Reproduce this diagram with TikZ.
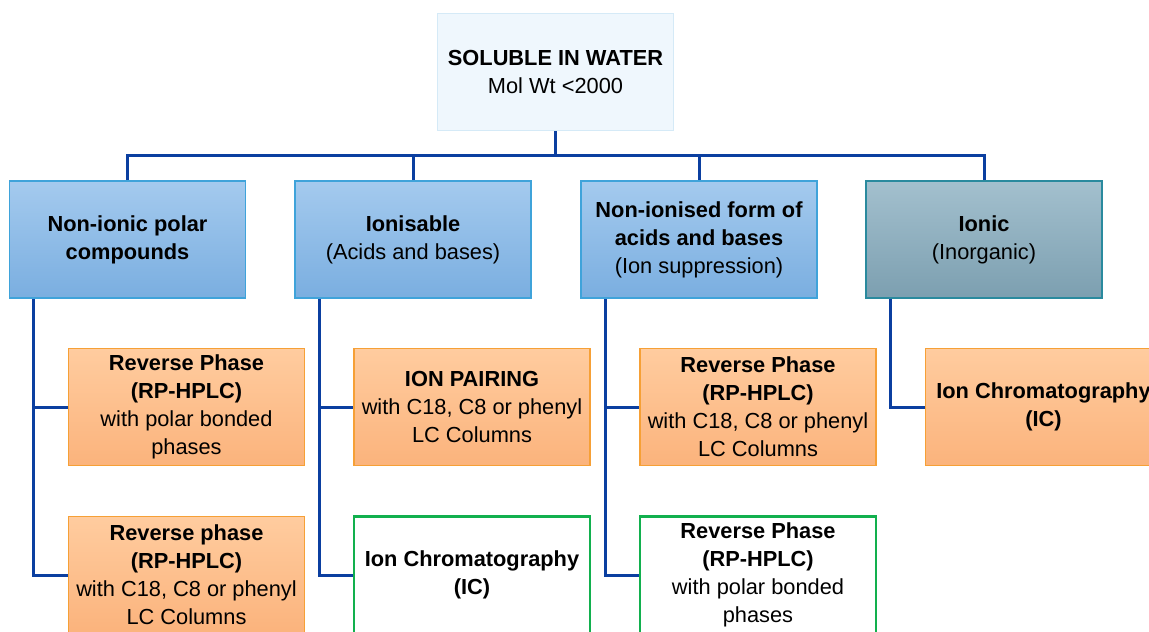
\documentclass[tikz,border=0pt]{standalone}
\usepackage{fontspec}
\setsansfont{Liberation Sans}
\usepackage{tikz}
\usetikzlibrary{positioning}
\definecolor{linkblue}{HTML}{0B3FA0}
\definecolor{topfill}{HTML}{EFF7FD}
\definecolor{topline}{HTML}{D5EAF7}
\definecolor{bluetop}{HTML}{A4CAEE}
\definecolor{bluebot}{HTML}{7AAEE0}
\definecolor{blueline}{HTML}{3FA3DA}
\definecolor{greytop}{HTML}{A3C0CE}
\definecolor{greybot}{HTML}{7C9FB0}
\definecolor{greyline}{HTML}{2A8A9E}
\definecolor{orangetop}{HTML}{FFCC9F}
\definecolor{orangebot}{HTML}{FBB37C}
\definecolor{orangeline}{HTML}{F6A036}
\definecolor{greenline}{HTML}{12B04E}

\begin{document}
\begin{tikzpicture}[
  x=0.025cm, y=-0.025cm,
  font=\sffamily\fontsize{15.5}{19.9}\selectfont,
  box/.style={align=center, minimum width=5.9cm, minimum height=2.93cm, inner sep=0pt, line width=0.035cm},
  head/.style={box, draw=topline, fill=topfill},
  group/.style={box, draw=blueline, top color=bluetop, bottom color=bluebot},
  ionic/.style={box, draw=greyline, top color=greytop, bottom color=greybot},
  method/.style={box, draw=orangeline, top color=orangetop, bottom color=orangebot},
  alt/.style={box, draw=greenline, fill=white, line width=0.07cm},
  link/.style={draw=linkblue, line width=0.075cm}
]
  \useasboundingbox (0,0) rectangle (1149,631);
  \clip (0,0) rectangle (1149,631);

  \node[head] (top) at (555.5,72) {\textbf{SOLUBLE IN WATER}\\Mol Wt <2000};
  \coordinate (bus) at (555.5,155);

  \node[group] (polar) at (127.5,239.5) {\textbf{Non-ionic polar}\\\textbf{compounds}};
  \node[group] (ionis) at (413,239.5)   {\textbf{Ionisable}\\(Acids and bases)};
  \node[group] (nonio) at (699,239.5)   {\textbf{Non-ionised form of}\\\textbf{acids and bases}\\(Ion suppression)};
  \node[ionic] (ionic) at (984,239.5)   {\textbf{Ionic}\\(Inorganic)};

  \node[method] (polarA) at (186.5,407) {\textbf{Reverse Phase}\\\textbf{(RP-HPLC)}\\with polar bonded\\phases};
  \node[method] (ionisA) at (472,407)   {\textbf{ION PAIRING}\\with C18, C8 or phenyl\\LC Columns};
  \node[method] (nonioA) at (758,407)   {\textbf{Reverse Phase}\\\textbf{(RP-HPLC)}\\with C18, C8 or phenyl\\LC Columns};
  \node[method] (ionicA) at (1043.5,407) {\textbf{Ion Chromatography}\\\textbf{(IC)}};

  \node[method] (polarB) at (186.5,575) {\textbf{Reverse phase}\\\textbf{(RP-HPLC)}\\with C18, C8 or phenyl\\LC Columns};
  \node[alt]    (ionisB) at (472,575)   {\textbf{Ion Chromatography}\\\textbf{(IC)}};
  \node[alt]    (nonioB) at (758,575)   {\textbf{Reverse Phase}\\\textbf{(RP-HPLC)}\\with polar bonded\\phases};

  % tree from the top box
  \draw[link] (top.south) -- (bus);
  \draw[link] (polar.north) |- (bus) -| (ionic.north);
  \draw[link] (ionis.north) -- (ionis.north |- bus);
  \draw[link] (nonio.north) -- (nonio.north |- bus);

  % branches to the methods
  \coordinate (polarT) at ([xshift=0.625cm]polar.south west);
  \coordinate (ionisT) at ([xshift=0.625cm]ionis.south west);
  \coordinate (nonioT) at ([xshift=0.625cm]nonio.south west);
  \coordinate (ionicT) at ([xshift=0.625cm]ionic.south west);
  \draw[link] (polarT) |- (polarB.west);
  \draw[link] (polarT |- polarA.west) -- (polarA.west);
  \draw[link] (ionisT) |- (ionisB.west);
  \draw[link] (ionisT |- ionisA.west) -- (ionisA.west);
  \draw[link] (nonioT) |- (nonioB.west);
  \draw[link] (nonioT |- nonioA.west) -- (nonioA.west);
  \draw[link] (ionicT) |- (ionicA.west);
\end{tikzpicture}
\end{document}
